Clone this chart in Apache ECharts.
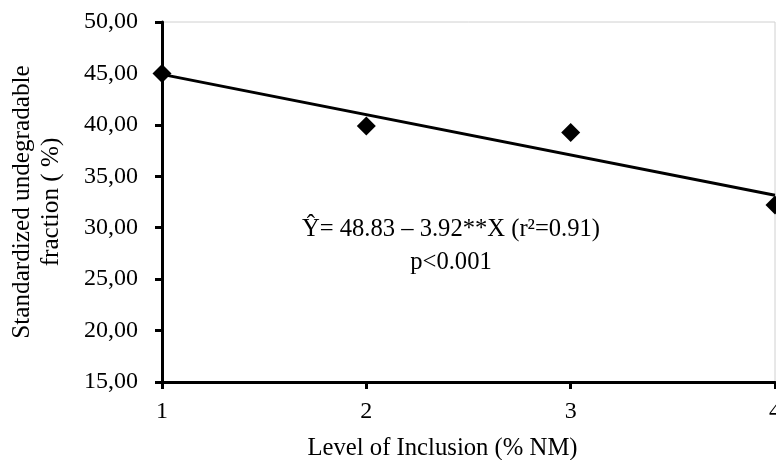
<!DOCTYPE html>
<html>
<head>
<meta charset="utf-8">
<script src="https://cdn.jsdelivr.net/npm/echarts@6/dist/echarts.min.js"></script>
<style>
  html, body { margin: 0; padding: 0; background: #fff; }
  #chart { width: 776px; height: 460px; }
</style>
</head>
<body>
<div id="chart"></div>
<script>
// Data
const inclusionLevels = [1, 2, 3, 4];
const undegradableFraction = [45.0, 39.9, 39.25, 32.2];
// Fitted regression line endpoints (Ŷ = 48.83 − 3.92X) at x = 1 and x = 4
const trendX = [1, 4];
const trendY = [44.91, 33.15];
const yTickMin = 15, yTickMax = 50, yTickStep = 5;
const xTickMin = 1, xTickMax = 4, xTickStep = 1;
const equationText = 'Ŷ= 48.83 – 3.92**X (r²=0.91)\np<0.001';

const FONT = 'Liberation Serif';

const chart = echarts.init(document.getElementById('chart'), null, { renderer: 'canvas' });
chart.setOption({
  animation: false,
  backgroundColor: '#ffffff',
  textStyle: { fontFamily: FONT, color: '#000' },
  grid: {
    left: 162, right: 1, top: 22, bottom: 78,
    containLabel: false,
    outerBoundsMode: 'none',
    show: true, borderColor: '#d0d0d0', borderWidth: 1, backgroundColor: 'transparent'
  },
  xAxis: {
    type: 'value',
    min: xTickMin, max: xTickMax, interval: xTickStep,
    name: 'Level of Inclusion (% NM)',
    nameLocation: 'middle',
    nameGap: 54,
    nameTextStyle: { fontFamily: FONT, fontSize: 24.7, color: '#000', padding: [0, 52, 0, 0] },
    axisLine: { onZero: false, lineStyle: { color: '#000', width: 3 } },
    axisTick: { show: true, length: 7, lineStyle: { color: '#000', width: 3 } },
    axisLabel: { fontFamily: FONT, fontSize: 24, color: '#000', margin: 18 },
    splitLine: { show: false }
  },
  yAxis: {
    type: 'value',
    min: yTickMin, max: yTickMax, interval: yTickStep,
    name: 'Standardized undegradable\nfraction ( %)',
    nameLocation: 'middle',
    nameGap: 96,
    nameTextStyle: { fontFamily: FONT, fontSize: 25.2, color: '#000', lineHeight: 29 },
    axisLine: { show: true, onZero: false, lineStyle: { color: '#000', width: 3 } },
    axisTick: { show: true, length: 7, lineStyle: { color: '#000', width: 3 } },
    axisLabel: {
      fontFamily: FONT, fontSize: 24, color: '#000', margin: 24,
      formatter: v => v.toFixed(2).replace('.', ',')
    },
    splitLine: { show: false }
  },
  series: [
    {
      type: 'line',
      data: trendX.map((x, i) => [x, trendY[i]]),
      showSymbol: false,
      symbol: 'none',
      clip: false,
      lineStyle: { color: '#000', width: 3 },
      z: 2
    },
    {
      type: 'scatter',
      data: inclusionLevels.map((x, i) => [x, undegradableFraction[i]]),
      symbol: 'diamond',
      symbolSize: [19, 19],
      clip: false,
      itemStyle: { color: '#000', opacity: 1 },
      z: 3
    }
  ],
  graphic: [
    {
      type: 'text',
      x: 451,
      y: 213,
      style: {
        text: equationText,
        fontFamily: FONT,
        fontSize: 24.6,
        fill: '#000',
        align: 'center',
        verticalAlign: 'top',
        lineHeight: 33
      }
    }
  ]
});
</script>
</body>
</html>
